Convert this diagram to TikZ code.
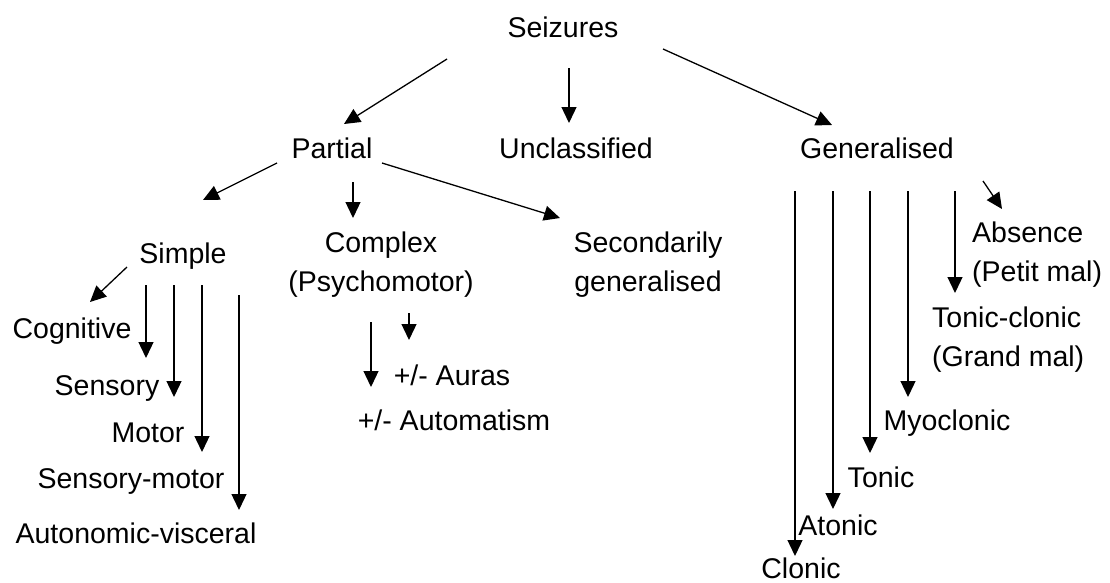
\documentclass[tikz,border=0pt]{standalone}
\usepackage{fontspec}
\setmainfont{Liberation Sans}
\usetikzlibrary{arrows.meta}

\tikzset{
  label/.style={inner sep=0pt, font=\fontsize{28.5}{38.5}\selectfont, anchor=base},
  twoline/.style={label, align=center, anchor=north},
  leftline/.style={label, align=left, anchor=north west},
  arr/.style={draw, line width=1.3pt, -{Triangle[length=16pt,width=15pt]}}
}

\begin{document}
\begin{tikzpicture}[x=1pt, y=-1pt]
    \useasboundingbox (0,0) rectangle (1110,582);

    % Nodes
    \node[label] (seiz) at (563,37) {Seizures};
    \node[label] (partial) at (332,158) {Partial};
    \node[label] (uncl) at (576,158) {Unclassified};
    \node[label] (gen) at (877,158) {Generalised};

    \node[label] (simple) at (183,263) {Simple};
    \node[twoline] (complex) at (381,232) {Complex\\(Psychomotor)};
    \node[twoline] (second) at (648,232) {Secondarily\\generalised};

    \node[label] (cogn) at (72,338) {Cognitive};
    \node[label] (sens) at (107,395) {Sensory};
    \node[label] (motor) at (148,442) {Motor};
    \node[label] (sensmot) at (131,488) {Sensory-motor};
    \node[label] (auton) at (136,543) {Autonomic-visceral};

    \node[label] (auras) at (452,385) {+/- Auras};
    \node[label] (autom) at (454,430) {+/- Automatism};

    \node[leftline] (absence) at (972,222) {Absence\\(Petit mal)};
    \node[leftline] (toncl) at (932,307) {Tonic-clonic\\(Grand mal)};
    \node[label] (myoc) at (947,430) {Myoclonic};
    \node[label] (tonic) at (881,487) {Tonic};
    \node[label] (atonic) at (838,535) {Atonic};
    \node[label] (clonic) at (801,578) {Clonic};

    % Top level
    \draw[arr] ([xshift=-116pt,yshift=-22pt]seiz.base) -- ([xshift=12pt,yshift=34pt]partial.base);
    \draw[arr] ([xshift=6pt,yshift=-31pt]seiz.base) -- ([xshift=-7pt,yshift=35pt]uncl.base);
    \draw[arr] ([xshift=100pt,yshift=-12pt]seiz.base) -- ([xshift=-45pt,yshift=33pt]gen.base);

    % Partial
    \draw[arr] ([xshift=-55pt,yshift=-5pt]partial.base) -- ([xshift=20pt,yshift=63pt]simple.base);
    \draw[arr] ([xshift=21pt,yshift=-24pt]partial.base) -- ([xshift=-28pt,yshift=14pt]complex.north);
    \draw[arr] ([xshift=50pt,yshift=-5pt]partial.base) -- ([xshift=-88pt,yshift=14pt]second.north);

    % Simple
    \draw[arr] ([xshift=-56pt,yshift=-4pt]simple.base) -- ([xshift=18pt,yshift=36pt]cogn.base);
    \draw[arr] ([xshift=-37pt,yshift=-22pt]simple.base) -- ([xshift=39pt,yshift=37pt]sens.base);
    \draw[arr] ([xshift=-9pt,yshift=-22pt]simple.base) -- ([xshift=26pt,yshift=45pt]motor.base);
    \draw[arr] ([xshift=19pt,yshift=-22pt]simple.base) -- ([xshift=71pt,yshift=36pt]sensmot.base);
    \draw[arr] ([xshift=56pt,yshift=-32pt]simple.base) -- ([xshift=103pt,yshift=33pt]auton.base);

    % Complex
    \draw[arr] ([xshift=28pt,yshift=-81pt]complex.north) -- ([xshift=-43pt,yshift=45pt]auras.base);
    \draw[arr] ([xshift=-10pt,yshift=-90pt]complex.north) -- ([xshift=-83pt,yshift=43pt]autom.base);

    % Generalised
    \draw[arr] ([xshift=106pt,yshift=-23pt]gen.base) -- ([xshift=30pt,yshift=13pt]absence.north west);
    \draw[arr] ([xshift=78pt,yshift=-33pt]gen.base) -- ([xshift=23pt,yshift=14pt]toncl.north west);
    \draw[arr] ([xshift=31pt,yshift=-33pt]gen.base) -- ([xshift=-39pt,yshift=33pt]myoc.base);
    \draw[arr] ([xshift=-7pt,yshift=-33pt]gen.base) -- ([xshift=-11pt,yshift=34pt]tonic.base);
    \draw[arr] ([xshift=-44pt,yshift=-33pt]gen.base) -- ([xshift=-5pt,yshift=26pt]atonic.base);
    \draw[arr] ([xshift=-82pt,yshift=-33pt]gen.base) -- ([xshift=-6pt,yshift=22pt]clonic.base);
\end{tikzpicture}
\end{document}
